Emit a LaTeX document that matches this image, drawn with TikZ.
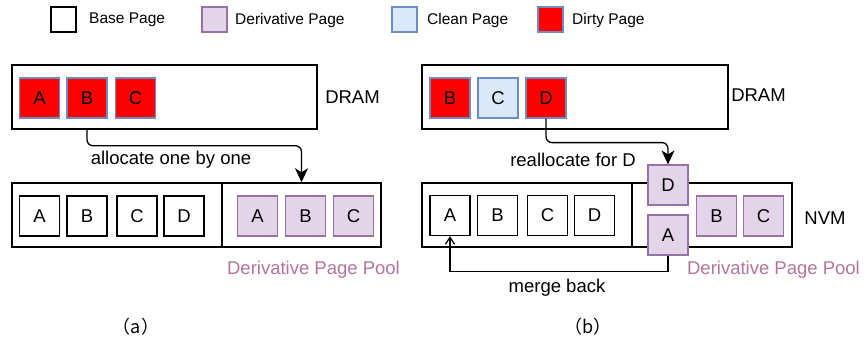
\documentclass[tikz,border=0pt]{standalone}
\usepackage{fontspec}
\setmainfont{Liberation Sans}
\newfontfamily\cjk{Noto Sans CJK SC}
\usetikzlibrary{arrows.meta}
\definecolor{dirtyfill}{HTML}{FF0000}
\definecolor{blueline}{HTML}{6C8EBF}
\definecolor{cleanfill}{HTML}{DAE8FC}
\definecolor{derivfill}{HTML}{E1D5E7}
\definecolor{derivline}{HTML}{9673A6}
\definecolor{pooltext}{HTML}{B5739D}

\begin{document}
\begin{tikzpicture}[x=1pt,y=-1pt,
  font=\fontsize{18.5}{22}\selectfont,
  mem/.style={draw,line width=1.5pt,minimum height=64,inner sep=0},
  page/.style={draw,line width=1.2pt,minimum width=40,minimum height=40,inner sep=0},
  basepage/.style={page},
  derivpage/.style={page,draw=derivline,fill=derivfill},
  cleanpage/.style={page,draw=blueline,fill=cleanfill},
  dirtypage/.style={page,draw=blueline,fill=dirtyfill},
  key/.style={minimum width=25,minimum height=25},
  keytext/.style={anchor=west,inner sep=0,font=\fontsize{15.5}{18}\selectfont},
  conn/.style={line width=1.3pt,rounded corners=6,-{Stealth[length=14pt,width=13pt,inset=4pt]}}]
\useasboundingbox (0,0) rectangle (865,340);

% legend
\path node[basepage,key] (kbase) at (63.5,19.5) {}
      node[keytext] (tbase) at (89,20) {Base Page}
      node[derivpage,key] (kderiv) at (214.5,19.5) {}
      node[keytext] (tderiv) at (235,20) {Derivative Page}
      node[cleanpage,key] (kclean) at (404.5,19.5) {}
      node[keytext] (tclean) at (427,20) {Clean Page}
      node[dirtypage,key] (kdirty) at (550.5,19.5) {}
      node[keytext] (tdirty) at (572,20) {Dirty Page};

% (a)
\path node[mem,minimum width=305] (dramA) at (164.5,97) {}
      node[dirtypage] (aA) at (39.5,98) {A}
      node[dirtypage] (aB) at (87,98) {B}
      node[dirtypage] (aC) at (135.5,98) {C}
      node (labA) at (352.5,97) {DRAM}
      node[mem,minimum width=210] (baseA) at (117,215) {}
      node[mem,minimum width=159] (poolA) at (301.5,215) {}
      node[basepage] (abA) at (39.5,216) {A}
      node[basepage] (abB) at (87,216) {B}
      node[basepage] (abC) at (137,216) {C}
      node[basepage] (abD) at (184,216) {D}
      node[derivpage] (adA) at (257.5,216) {A}
      node[derivpage] (adB) at (305.5,216) {B}
      node[derivpage] (adC) at (353.5,216) {C}
      node[text=pooltext] (plA) at (313.5,270) {Derivative Page Pool}
      node (opA) at (171,160) {allocate one by one}
      node[font=\cjk\fontsize{18}{22}\selectfont] (capA) at (136,327) {（a）};

\draw[conn] (aB |- dramA.south) -- ++(0,16) -| (poolA.north);

% (b)
\path node[mem,minimum width=306] (dramB) at (575,97) {}
      node[dirtypage] (bB) at (450,98) {B}
      node[cleanpage] (bC) at (498,98) {C}
      node[dirtypage] (bD) at (546,98) {D}
      node (labB) at (758.5,95) {DRAM}
      node[mem,minimum width=210] (baseB) at (527,215) {}
      node[mem,minimum width=160] (poolB) at (712,215) {}
      node[basepage] (bbA) at (450,215.5) {A}
      node[basepage] (bbB) at (497.5,215.5) {B}
      node[basepage] (bbC) at (547.5,215.5) {C}
      node[basepage] (bbD) at (594.5,215.5) {D}
      node[derivpage] (bdD) at (668,185) {D}
      node[derivpage] (bdA) at (668,235) {A}
      node[derivpage] (bdB) at (716.5,216) {B}
      node[derivpage] (bdC) at (763.5,216) {C}
      node (nvmB) at (825,218) {NVM}
      node[text=pooltext] (plB) at (773.5,270) {Derivative Page Pool}
      node (opB) at (573,160) {reallocate for D}
      node (mgB) at (557,288) {merge back}
      node[font=\cjk\fontsize{18}{22}\selectfont] (capB) at (588,327) {（b）};

\draw[conn] (bD.south) -- ++(0,24) -| (bdD.north);
\draw[line width=1.2pt,-{Straight Barb[length=7pt,width=9pt]}] (bdA.south) -- ++(0,16) -| (bbA.south);

\end{tikzpicture}
\end{document}
